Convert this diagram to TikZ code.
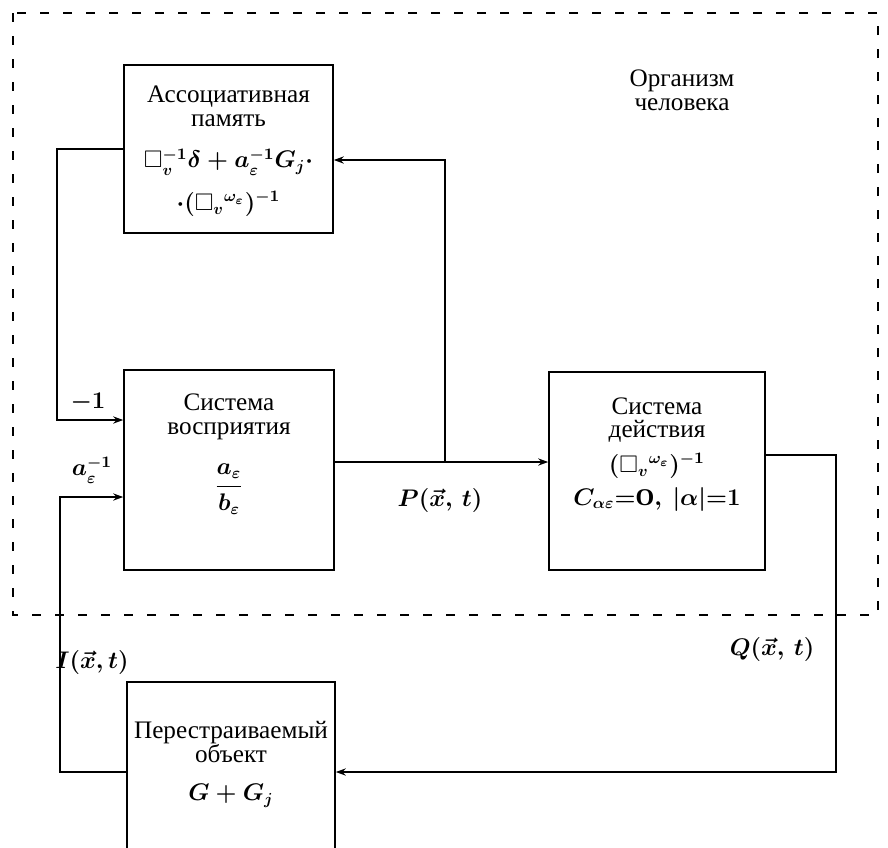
\documentclass[tikz,border=0pt]{standalone}
\usepackage{fix-cm}
\usepackage{amsmath,amssymb}
\usepackage{fontspec}
\setmainfont{Liberation Serif}
\usetikzlibrary{arrows.meta,positioning,calc}

\begin{document}
\begin{tikzpicture}[x=0.5pt,y=-0.5pt,
  blok/.style={draw,line width=.8pt,inner sep=0pt},
  linija/.style={line width=.8pt},
  strelka/.style={linija,-{Stealth[length=5pt,width=3.6pt]}},
  ramka/.style={line width=1.2pt,dash pattern=on 4.5pt off 7pt},
  nadpis/.style={align=center,inner sep=0pt,font=\fontsize{12.6}{11.8}\selectfont},
  formula/.style={inner sep=0pt,font=\fontsize{12}{14}\selectfont\boldmath}]
  \clip (0,0) rectangle (888,847);
  % organism frame
  \draw[ramka] (13,13) rectangle (878,615);
  \node[nadpis] (org) at (682,90) {Организм\\человека};
  % blocks
  \node[blok,minimum width=104.5pt,minimum height=84pt] (assoc) at (228.5,149) {};
  \node[blok,minimum width=105pt,minimum height=100pt] (percep) at (229,470) {};
  \node[blok,minimum width=108pt,minimum height=99pt] (action) at (657,471) {};
  \node[blok,minimum width=104pt,minimum height=95pt] (object) at (231,777) {};
  % block texts
  \node[nadpis] (assoc-name) at (228.5,106) {Ассоциативная\\память};
  \node[formula] (assoc-f1) at (228.5,162) {$\square_v^{-1}\delta+a_\varepsilon^{-1}G_j\cdot$};
  \node[formula] (assoc-f2) at (228.5,204) {$\cdot(\square_v{}^{\omega_\varepsilon})^{-1}$};
  \node[nadpis] (percep-name) at (229,417) {Система\\восприятия};
  \node[formula] (percep-f) at (229,489) {$\dfrac{a_\varepsilon}{b_\varepsilon}$};
  \node[nadpis] (action-name) at (657,420) {Система\\действия};
  \node[formula] (action-f1) at (657,466) {$(\square_v{}^{\omega_\varepsilon})^{-1}$};
  \node[formula] (action-f2) at (657,499) {$C_{\alpha\varepsilon}{=}\mathrm{O},\ |\alpha|{=}1$};
  \node[nadpis] (object-name) at (231,742) {Перестраиваемый\\объект};
  \node[formula] (object-f) at (231,796) {$G+G_j$};
  % connections
  \coordinate (vhod1) at (57,420);
  \coordinate (vhod2) at (60,497);
  \coordinate (razv) at (445,462);
  \coordinate (verh) at (445,160);
  \coordinate (vyh) at (836,455);
  \coordinate (niz) at (836,772);
  \draw[strelka] (assoc.west) -| (vhod1) -- (vhod1 -| percep.west);
  \draw[strelka] (object.west |- niz) -| (vhod2) -- (vhod2 -| percep.west);
  \draw[strelka] (percep.east |- razv) -- (action.west |- razv);
  \draw[strelka] (razv) -- (verh) -- (verh -| assoc.east);
  \draw[strelka] (action.east |- vyh) -- (vyh) -- (niz) -- (niz -| object.east);
  % signal labels
  \node[formula] (minus1) at (88,402) {$-1$};
  \node[formula] (ainv) at (92,470) {$a_\varepsilon^{-1}$};
  \node[formula] (isig) at (92,662) {$I(\vec{x},t)$};
  \node[formula] (psig) at (440,500) {$P(\vec{x},\,t)$};
  \node[formula] (qsig) at (772,649) {$Q(\vec{x},\,t)$};
\end{tikzpicture}
\end{document}
